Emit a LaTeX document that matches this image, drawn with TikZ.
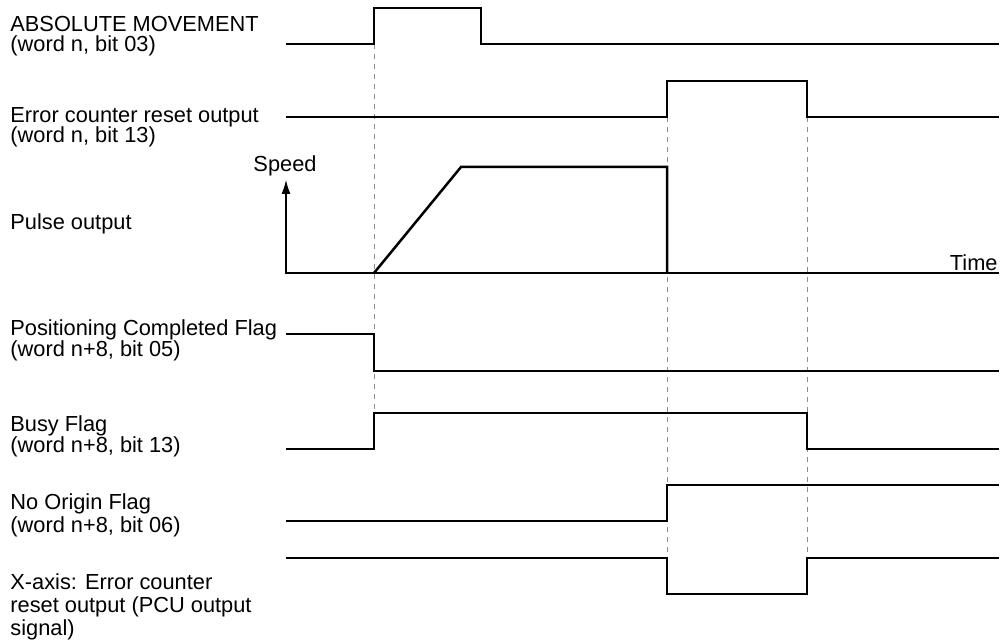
\documentclass[tikz,border=0pt]{standalone}
\usepackage{fontspec}
\setmainfont{Liberation Sans}
\usepackage{tikz}
\usetikzlibrary{arrows.meta}
\newcommand{\lblfont}{\fontsize{10.9pt}{10.5pt}\selectfont}
\tikzset{
  sig/.style={line width=1.25pt, line join=miter},
  axis/.style={line width=0.6pt},
  guide/.style={draw=black!45, line width=0.5pt, dash pattern=on 2.5pt off 2.5pt},
  lbl/.style={anchor=base west, align=left, inner sep=0pt, font=\lblfont},
}
\begin{document}
\begin{tikzpicture}[x=0.5pt, y=-0.5pt]
  \useasboundingbox (0,0) rectangle (1002,640);
  % labels (placed at the baseline of their last line)
  \node[lbl] (absmove) at (10,51.7) {ABSOLUTE MOVEMENT\\[-0.5pt](word n, bit 03)};
  \node[lbl] (ecrst) at (10,143) {Error counter reset output\\[-0.5pt](word n, bit 13)};
  \node[lbl] (pulse) at (10,230) {Pulse output};
  \node[lbl] (posdone) at (10,356.7) {Positioning Completed Flag\\[0.3pt](word n+8, bit 05)};
  \node[lbl] (busy) at (10,453) {Busy Flag\\[0.3pt](word n+8, bit 13)};
  \node[lbl] (noorig) at (10,532.3) {No Origin Flag\\[1pt](word n+8, bit 06)};
  \node[lbl] (xaxis) at (10,635.5) {X-axis: Error counter\\[1pt]reset output (PCU output\\[1pt]signal)};
  \node[font=\lblfont, anchor=base, inner sep=0pt] (speed) at (285,171.7) {Speed};
  \node[font=\lblfont, anchor=base east, inner sep=0pt] (time) at (998,271) {Time};
  % guides
  \draw[guide] (374,44) -- (374,413);
  \draw[guide] (667,117) -- (667,558);
  \draw[guide] (807,117) -- (807,558);
  % speed axes
  \draw[axis, -{Latex[length=7pt, width=4.5pt]}] (999,273) -- (286,273) -- (286,180);
  % waveforms
  \draw[sig] (286,44) -- (374,44) -- (374,8) -- (481,8) -- (481,44) -- (999,44);
  \draw[sig] (286,117) -- (667,117) -- (667,81) -- (807,81) -- (807,117) -- (999,117);
  \draw[sig] (374,273) -- (461,167) -- (667,167) -- (667,273);
  \draw[sig] (286,334) -- (374,334) -- (374,371) -- (999,371);
  \draw[sig] (286,449) -- (374,449) -- (374,413) -- (807,413) -- (807,449) -- (999,449);
  \draw[sig] (286,521) -- (667,521) -- (667,485) -- (999,485);
  \draw[sig] (286,558) -- (667,558) -- (667,594) -- (807,594) -- (807,558) -- (999,558);
\end{tikzpicture}
\end{document}
